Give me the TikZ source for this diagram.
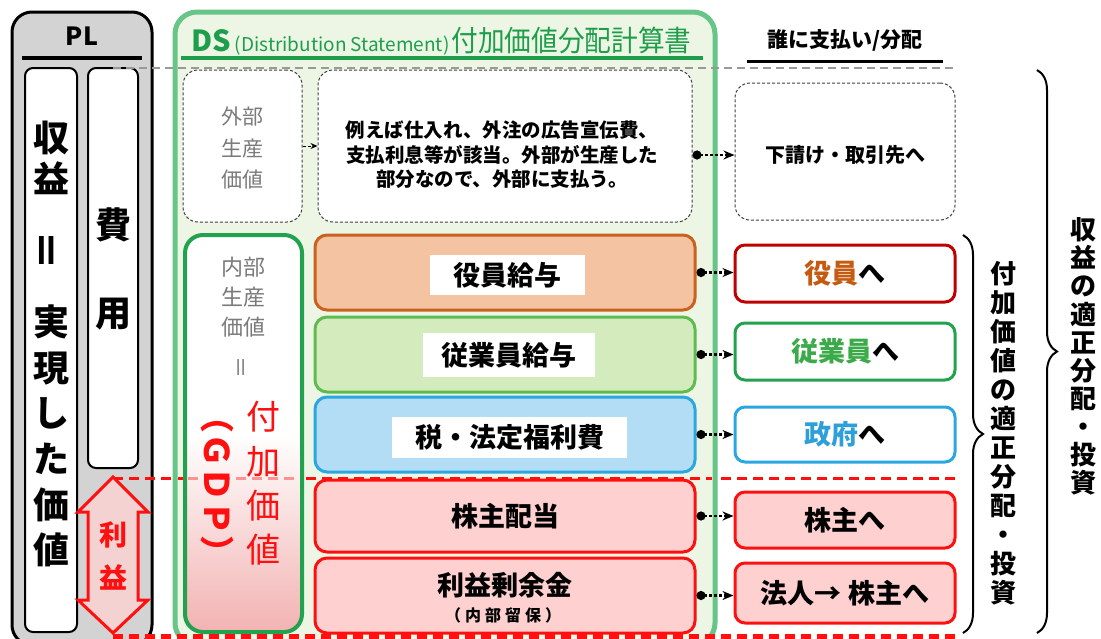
\documentclass[tikz,border=0pt]{standalone}
\usepackage{fontspec}
\setmainfont{Noto Sans CJK JP}
\usetikzlibrary{arrows.meta,decorations.pathreplacing,calc}
\definecolor{plgray}{HTML}{D3D3D3}
\definecolor{dsgreen}{HTML}{66C587}
\definecolor{dsfill}{HTML}{EDF6E5}
\definecolor{titlegreen}{HTML}{1E9E4A}
\definecolor{gdpgreen}{HTML}{22A24E}
\definecolor{gdppink}{HTML}{F3B2B2}
\definecolor{orgborder}{HTML}{C8621E}
\definecolor{orgfill}{HTML}{F4C3A2}
\definecolor{grnborder}{HTML}{5DBB4F}
\definecolor{grnfill}{HTML}{D4EBBE}
\definecolor{bluborder}{HTML}{2AA6E0}
\definecolor{blufill}{HTML}{B3DDF4}
\definecolor{redline}{HTML}{FF1010}
\definecolor{pinkfill}{HTML}{FFD0D0}
\definecolor{darkred}{HTML}{C00000}
\definecolor{orgtext}{HTML}{C55A11}
\definecolor{grntext}{HTML}{3BAA48}
\definecolor{blutext}{HTML}{2E9FD8}
\definecolor{graytext}{HTML}{7A7A7A}
\definecolor{arrowpink}{HTML}{F5D2D2}
\begin{document}
\begin{tikzpicture}[x=1pt,y=-1pt,
  rbox/.style={rectangle, inner sep=0pt},
  tx/.style={inner sep=0pt, align=center},
  dbox/.style={rbox, draw=black!75, line width=1pt, dash pattern=on 3pt off 2pt, fill=white, rounded corners=15pt},
  colbox/.style={rbox, line width=3pt, rounded corners=12pt, minimum width=380pt},
  lbl/.style={rbox, fill=white},
  rtbox/.style={rbox, line width=3pt, rounded corners=10pt, minimum width=220pt},
  conn/.style={line width=2.6pt, dash pattern=on 3pt off 2pt, {Circle[length=9pt]}-{Stealth[length=11pt,width=9pt]}},
  brc/.style={decorate, decoration={brace, amplitude=20pt}, line width=2pt}
]
\useasboundingbox (0,0) rectangle (1101,638);
\clip (0,0) rectangle (1101,638);

% ---------------- PL column ----------------
\node[rbox, draw=black, line width=3pt, fill=plgray, rounded corners=20pt,
      minimum width=140pt, minimum height=633pt] (pl) at (82,328.5) {};
\node[tx, font=\fontsize{25}{25}\selectfont\bfseries] (pltitle) at (82,36) {PL};
\draw[line width=4pt] (22,58) -- (142,58);
\node[rbox, draw=black, line width=2pt, fill=white, rounded corners=8pt,
      minimum width=52pt, minimum height=564pt] (rev) at (51,350) {};
\node[rbox, draw=black, line width=2pt, fill=white, rounded corners=8pt,
      minimum width=50pt, minimum height=400pt] (cost) at (113,268) {};
\node[tx, font=\fontsize{36}{41}\selectfont\bfseries] (revtop) at (51,158) {収\\益};
\node[tx, rotate=90, font=\fontsize{40}{40}\selectfont\bfseries] (reveq) at (51,250) {＝};
\node[tx, font=\fontsize{36}{45.6}\selectfont\bfseries] (revbot) at (51,436) {実\\現\\し\\た\\価\\値};
\node[tx, font=\fontsize{36}{88}\selectfont\bfseries] (costtxt) at (113,269) {費\\用};

% red dashed separator lines (under boxes)
\draw[redline, line width=3pt, dash pattern=on 10pt off 6pt] (113,478) -- (957,478);

% profit double arrow
\draw[redline, line width=3pt, fill=arrowpink, line join=miter]
  (113,477) -- (148,512) -- (138,512) -- (138,600) -- (148,600) -- (113,633)
  -- (78,600) -- (88,600) -- (88,512) -- (78,512) -- cycle;
\node[tx, text=redline, font=\fontsize{28}{43}\selectfont\bfseries] (profit) at (113,556) {利\\益};

% ---------------- DS column ----------------
\node[rbox, draw=dsgreen, line width=5pt, fill=dsfill, rounded corners=22pt,
      minimum width=540pt, minimum height=633pt] (ds) at (445,328.5) {};
\draw[redline, line width=3pt, dash pattern=on 10pt off 6pt] (178,478) -- (712,478);
\node[tx, text=titlegreen, anchor=base west] (dstitle) at (191,51)
  {{\fontsize{29}{29}\selectfont\bfseries DS}\hspace{4pt}{\fontsize{19}{19}\selectfont (Distribution Statement)}\hspace{2pt}\scalebox{0.92}[1]{\fontsize{29}{29}\selectfont 付加価値分配計算書}};
\draw[titlegreen, line width=4pt] (181,58) -- (703,58);

\draw[black!40, line width=1.5pt, dash pattern=on 8pt off 5pt] (113,68) -- (957,68);

\node[dbox, minimum width=119pt, minimum height=152pt] (ext) at (242.5,146) {};
\node[tx, text=graytext, font=\fontsize{21}{31.5}\selectfont] (exttxt) at (242.5,148) {外部\\生産\\価値};
\node[dbox, minimum width=374pt, minimum height=152pt] (desc) at (505,146) {};
\node[tx, font=\fontsize{19.5}{24.5}\selectfont\bfseries] (desctxt) at (502,155)
  {例えば仕入れ、外注の広告宣伝費、\\支払利息等が該当。外部が生産した\\部分なので、外部に支払う。};
\draw[line width=1pt, dash pattern=on 3pt off 2pt, -{Stealth[length=7pt,width=6pt]}] (ext.east) -- (desc.west);

% GDP box
\node[rbox, draw=gdpgreen, line width=4pt, top color=white, bottom color=gdppink, middle color=white,
      rounded corners=18pt, minimum width=117pt, minimum height=397pt] (gdp) at (243.5,433.5) {};
\draw[redline!45, line width=3pt, dash pattern=on 10pt off 6pt] (188,478) -- (299,478);
\node[tx, text=graytext, font=\fontsize{22}{30}\selectfont] (inttxt) at (243.5,297) {内部\\生産\\価値};
\node[tx, rotate=90, text=graytext, font=\fontsize{22}{22}\selectfont] (inteq) at (243.5,367) {＝};
\node[tx, rotate=-90, text=redline, font=\fontsize{34}{34}\selectfont\bfseries] (gdptxt) at (217,484) {（ＧＤＰ）};
\node[tx, text=redline, font=\fontsize{34}{44.3}\selectfont] (vatxt) at (263,483.5) {付\\加\\価\\値};

% distribution boxes
\node[colbox, draw=orgborder, fill=orgfill, minimum height=75pt] (b1) at (505,272.5) {};
\node[lbl, minimum width=155pt, minimum height=40pt, font=\fontsize{27}{27}\selectfont\bfseries] (l1) at (507.5,275) {役員給与};
\node[colbox, draw=grnborder, fill=grnfill, minimum height=75pt] (b2) at (505,354.5) {};
\node[lbl, minimum width=172pt, minimum height=44pt, font=\fontsize{27}{27}\selectfont\bfseries] (l2) at (509,355) {従業員給与};
\node[colbox, draw=bluborder, fill=blufill, minimum height=75pt] (b3) at (505,434.5) {};
\node[lbl, minimum width=235pt, minimum height=41pt, font=\fontsize{27}{27}\selectfont\bfseries] (l3) at (509.5,437.5) {税・法定福利費};
\node[colbox, draw=redline, fill=pinkfill, minimum height=72pt, font=\fontsize{27}{27}\selectfont\bfseries] (b4) at (505,516) {株主配当};
\node[colbox, draw=redline, fill=pinkfill, minimum height=75pt] (b5) at (505,595.5) {};
\node[tx, font=\fontsize{27}{27}\selectfont\bfseries] (b5a) at (505,585) {利益剰余金};
\node[tx, font=\fontsize{16}{16}\selectfont\bfseries] (b5b) at (503,615) {（\hspace{4pt}内\hspace{4pt}部\hspace{4pt}留\hspace{4pt}保\hspace{4pt}）};

% ---------------- right column ----------------
\node[tx, font=\fontsize{21}{21}\selectfont\bfseries] (whohead) at (845,40) {誰に支払い/分配};
\draw[line width=3pt] (747,61) -- (943,61);

\node[dbox, minimum width=220pt, minimum height=137pt] (r0) at (845,151.5) {};
\node[tx, font=\fontsize{20}{20}\selectfont\bfseries] (r0t) at (845,155) {下請け・取引先へ};
\node[rtbox, draw=darkred, fill=white, minimum height=57pt, font=\fontsize{27}{27}\selectfont\bfseries] (r1) at (845,273.5) {{\color{orgtext}役員}へ};
\node[rtbox, draw=gdpgreen, fill=white, minimum height=57pt, font=\fontsize{27}{27}\selectfont\bfseries] (r2) at (845,351.5) {{\color{grntext}従業員}へ};
\node[rtbox, draw=bluborder, fill=white, minimum height=55pt, font=\fontsize{27}{27}\selectfont\bfseries] (r3) at (845,434.5) {{\color{blutext}政府}へ};
\node[rtbox, draw=redline, fill=pinkfill, minimum height=56pt, font=\fontsize{27}{27}\selectfont\bfseries] (r4) at (845,520) {株主へ};
\node[rtbox, draw=redline, fill=pinkfill, minimum height=60pt, font=\fontsize{27}{27}\selectfont\bfseries] (r5) at (845,593) {法人→ 株主へ};

% connectors
\coordinate (dstart) at ($(desc.east)+(0,9)$);
\draw[conn] (dstart) -- (dstart -| r0.west);
\draw[conn] (b1.east) -- (b1.east -| r1.west);
\draw[conn] (b2.east) -- (b2.east -| r2.west);
\draw[conn] (b3.east) -- (b3.east -| r3.west);
\draw[conn] (b4.east) -- (b4.east -| r4.west);
\draw[conn] (b5.east) -- (b5.east -| r5.west);

% braces
\draw[brc] (963,235) -- (963,633);
\node[tx, font=\fontsize{26}{29}\selectfont\bfseries] (va2) at (1003,433) {付\\加\\価\\値\\の\\適\\正\\分\\配\\・\\投\\資};
\draw[brc] (1037,70) -- (1037,633);
\node[tx, font=\fontsize{26}{28.1}\selectfont\bfseries] (rev2) at (1083,356.5) {収\\益\\の\\適\\正\\分\\配\\・\\投\\資};

% bottom red dashed line
\draw[redline, line width=5pt, dash pattern=on 10pt off 6pt] (113,636) -- (957,636);
\end{tikzpicture}
\end{document}
